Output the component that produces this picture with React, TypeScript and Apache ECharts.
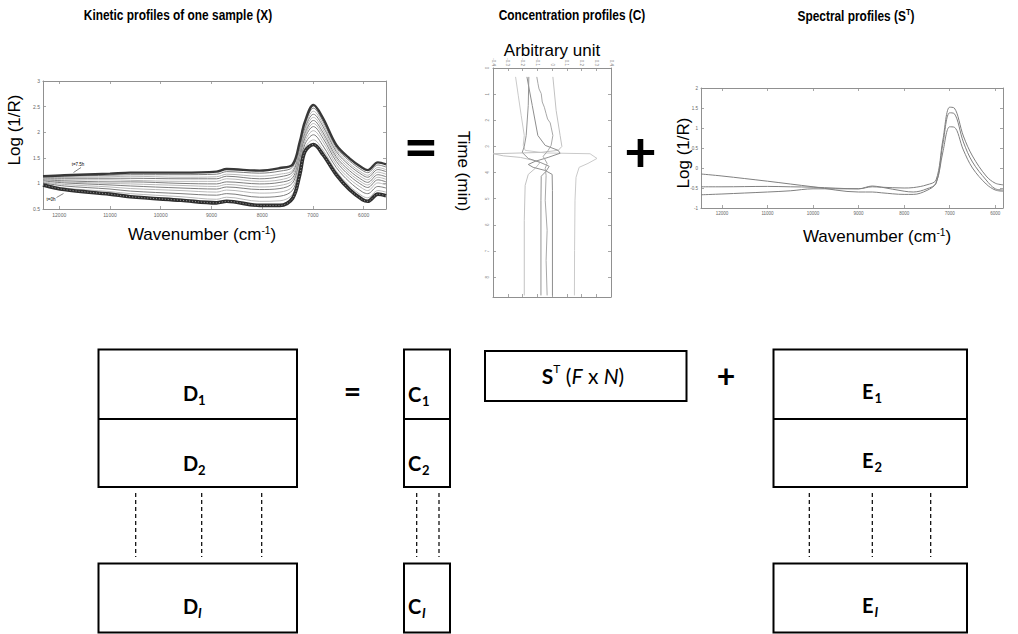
import { useEffect, useRef } from 'react';
import * as echarts from 'echarts';

// ---------- Kinetic profiles of one sample (X) ----------
const KIN_WAVENUMBERS = [12320, 11900, 11000, 10600, 9600, 8900, 8700, 8050, 7650, 7400, 7260, 7160, 6990, 6800, 6540, 6280, 6020, 5920, 5720, 5560];
const KIN_T75 = [1.14, 1.16, 1.19, 1.21, 1.21, 1.23, 1.28, 1.25, 1.30, 1.37, 1.81, 2.20, 2.53, 2.27, 1.75, 1.49, 1.30, 1.26, 1.41, 1.37];
const KIN_M1 = [1.13, 1.14, 1.16, 1.17, 1.17, 1.18, 1.23, 1.20, 1.24, 1.32, 1.76, 2.15, 2.47, 2.21, 1.70, 1.44, 1.25, 1.21, 1.36, 1.32];
const KIN_M2 = [1.11, 1.12, 1.13, 1.14, 1.12, 1.13, 1.18, 1.14, 1.18, 1.26, 1.71, 2.11, 2.41, 2.16, 1.66, 1.39, 1.20, 1.16, 1.31, 1.27];
const KIN_M3 = [1.10, 1.10, 1.10, 1.10, 1.09, 1.09, 1.14, 1.09, 1.13, 1.22, 1.66, 2.07, 2.35, 2.11, 1.62, 1.35, 1.16, 1.12, 1.27, 1.23];
const KIN_M4 = [1.09, 1.07, 1.07, 1.06, 1.04, 1.04, 1.09, 1.04, 1.07, 1.17, 1.61, 2.02, 2.29, 2.05, 1.57, 1.30, 1.11, 1.07, 1.22, 1.18];
const KIN_M5 = [1.07, 1.05, 1.03, 1.03, 1.00, 0.99, 1.03, 0.99, 1.02, 1.11, 1.56, 1.97, 2.23, 1.99, 1.52, 1.25, 1.06, 1.02, 1.17, 1.13];
const KIN_M6 = [1.06, 1.03, 1.00, 0.99, 0.96, 0.94, 0.98, 0.93, 0.96, 1.06, 1.51, 1.93, 2.17, 1.94, 1.48, 1.20, 1.01, 0.97, 1.12, 1.08];
const KIN_M7 = [1.05, 1.01, 0.97, 0.95, 0.91, 0.89, 0.93, 0.88, 0.90, 1.01, 1.46, 1.88, 2.11, 1.88, 1.43, 1.15, 0.96, 0.92, 1.07, 1.03];
const KIN_M8 = [1.03, 0.98, 0.93, 0.90, 0.86, 0.83, 0.87, 0.81, 0.83, 0.94, 1.39, 1.82, 2.03, 1.81, 1.37, 1.09, 0.90, 0.86, 1.01, 0.97];
const KIN_M9 = [1.01, 0.95, 0.89, 0.85, 0.80, 0.77, 0.80, 0.73, 0.75, 0.87, 1.32, 1.76, 1.95, 1.73, 1.31, 1.03, 0.83, 0.80, 0.94, 0.91];
const KIN_M10 = [0.99, 0.91, 0.84, 0.80, 0.74, 0.69, 0.73, 0.65, 0.66, 0.79, 1.25, 1.69, 1.85, 1.65, 1.24, 0.95, 0.75, 0.72, 0.86, 0.83];
const KIN_T0 = [0.97, 0.88, 0.79, 0.74, 0.67, 0.62, 0.65, 0.57, 0.57, 0.71, 1.17, 1.62, 1.76, 1.56, 1.17, 0.88, 0.68, 0.65, 0.79, 0.76];
const KIN_MIDDLE = [KIN_M1, KIN_M2, KIN_M3, KIN_M4, KIN_M5, KIN_M6, KIN_M7, KIN_M8, KIN_M9, KIN_M10];

// ---------- Concentration profiles (C): [arbitrary unit, time] ----------
const CONC_SPIKE_RIGHT = [[-0.247, 0.34], [-0.229, 1.04], [-0.209, 1.81], [-0.188, 2.58], [-0.195, 2.96], [-0.182, 3.15], [-0.046, 3.25], [0.258, 3.28], [0.305, 3.46], [0.244, 3.65], [0.184, 3.80], [0.163, 4.18], [0.156, 5.06], [0.153, 6.98], [0.152, 8.70]];
const CONC_SPIKE_LEFT = [[0.006, 0.34], [0.028, 1.62], [0.055, 2.58], [0.067, 3.00], [0.042, 3.15], [-0.08, 3.23], [-0.398, 3.28], [-0.33, 3.36], [-0.215, 3.42], [-0.128, 3.53], [-0.08, 3.61], [-0.114, 3.84], [-0.161, 4.07], [-0.182, 4.49], [-0.188, 5.83], [-0.188, 8.70]];
const CONC_DARK_A = [[-0.17, 0.34], [-0.134, 1.43], [-0.096, 2.58], [-0.046, 2.96], [0.042, 3.15], [0.055, 3.26], [-0.026, 3.42], [-0.114, 3.57], [-0.161, 3.69], [-0.128, 3.80], [-0.046, 3.92], [0.001, 4.07], [0.003, 4.69], [0.003, 8.70]];
const CONC_DARK_B = [[-0.157, 0.34], [-0.161, 1.43], [-0.175, 2.58], [-0.188, 3.00], [-0.202, 3.23], [-0.161, 3.46], [-0.08, 3.61], [-0.019, 3.76], [-0.04, 3.95], [-0.073, 4.14], [-0.075, 5.06], [-0.075, 8.70]];
const CONC_WAVY = [[-0.103, 0.34], [-0.095, 0.6], [-0.088, 0.8], [-0.073, 0.98], [-0.066, 1.3], [-0.052, 1.5], [-0.04, 1.75], [-0.03, 1.95], [-0.012, 2.1], [-0.006, 2.26], [0.006, 2.58], [-0.006, 2.96], [-0.026, 3.15], [-0.06, 3.38], [-0.033, 3.65], [-0.046, 3.84], [-0.04, 4.11], [-0.046, 5.06], [-0.033, 6.21], [-0.04, 7.36], [-0.033, 8.70]];

// ---------- Spectral profiles (S^T) ----------
const SPEC_WAVENUMBERS = [12460, 12000, 11000, 10500, 10000, 9000, 8700, 8500, 8000, 7800, 7500, 7300, 7150, 7000, 6900, 6700, 6500, 6200, 6000, 5830];
const SPEC_A = [-0.15, -0.20, -0.33, -0.40, -0.47, -0.60, -0.60, -0.62, -0.66, -0.66, -0.56, -0.38, 0.40, 1.03, 1.02, 0.45, 0.00, -0.40, -0.55, -0.58];
const SPEC_B = [-0.47, -0.47, -0.46, -0.47, -0.48, -0.52, -0.47, -0.48, -0.50, -0.49, -0.42, -0.30, 0.70, 1.52, 1.50, 0.80, 0.30, -0.20, -0.38, -0.42];
const SPEC_C = [-0.67, -0.65, -0.60, -0.57, -0.52, -0.52, -0.45, -0.48, -0.58, -0.60, -0.52, -0.38, 0.60, 1.38, 1.36, 0.65, 0.15, -0.30, -0.52, -0.55];

// ---------- texts ----------
const TITLE_KINETIC = 'Kinetic profiles of one sample (X)';
const TITLE_CONC = 'Concentration profiles (C)';
const TITLE_SPEC = 'Spectral profiles (S';
const LABEL_LOG = 'Log (1/R)';
const LABEL_WN = 'Wavenumber (cm';
const LABEL_TIME = 'Time (min)';
const LABEL_ARB = 'Arbitrary unit';

const LAB_FONT = "'Liberation Sans', Arial, sans-serif";
const DIA_FONT = "Lato, 'Open Sans', 'Liberation Sans', sans-serif";
const AX = '#909090';

function txt(x: number, y: number, text: string, o: any = {}) {
  const { rotation, scaleX, ...style } = o;
  return {
    type: 'text', x, y, rotation: rotation || 0, scaleX: scaleX || 1, silent: true,
    style: {
      text, fill: '#000', fontFamily: LAB_FONT, fontSize: 12,
      align: 'center', verticalAlign: 'middle', textAlign: 'center', textVerticalAlign: 'middle',
      ...style,
    },
  };
}

function rect(x: number, y: number, w: number, h: number) {
  return { type: 'rect', shape: { x, y, width: w, height: h }, style: { fill: 'none', stroke: '#000', lineWidth: 2 }, silent: true };
}
function hline(x1: number, x2: number, y: number) {
  return { type: 'line', shape: { x1, y1: y, x2, y2: y }, style: { stroke: '#000', lineWidth: 2 }, silent: true };
}
function dash(x: number, y1: number, y2: number) {
  return { type: 'line', shape: { x1: x, y1, x2: x, y2 }, style: { stroke: '#000', lineWidth: 1.2, lineDash: [4, 3] }, silent: true };
}
function subLabel(main: string, sub: string, x: number, y: number, subDx: number, italic = false) {
  return [
    txt(x, y, main, { fontFamily: DIA_FONT, fontWeight: 'bold', fontSize: 20, align: 'left', textAlign: 'left' }),
    txt(x + subDx, y + 7, sub, { fontFamily: DIA_FONT, fontWeight: 'bold', fontSize: 13, fontStyle: italic ? 'italic' : 'normal', align: 'left', textAlign: 'left' }),
  ];
}

const plainNumber = (v: number) => String(v);

function boxAxes(grid: number, x: any, y: any, xLabelExtra: any = {}, yLabelExtra: any = {}) {
  const line = { show: true, onZero: false, lineStyle: { color: AX, width: 1 } };
  const tick = { show: true, inside: true, length: 3, lineStyle: { color: AX, width: 0.8 } };
  const lab = { fontSize: 5, color: '#666', fontFamily: LAB_FONT, margin: 3 };
  const xMainPos = x.position || 'bottom';
  const yMainPos = y.position || 'left';
  const { position: _xp, ...xr } = x;
  const { position: _yp, ...yr } = y;
  return {
    xAxes: [
      { type: 'value', gridIndex: grid, position: xMainPos, ...xr, axisLine: line, axisTick: tick, splitLine: { show: false }, axisLabel: { ...lab, ...xLabelExtra } },
      { type: 'value', gridIndex: grid, position: xMainPos === 'bottom' ? 'top' : 'bottom', ...xr, axisLine: line, axisTick: tick, splitLine: { show: false }, axisLabel: { show: false } },
    ],
    yAxes: [
      { type: 'value', gridIndex: grid, position: yMainPos, ...yr, axisLine: line, axisTick: tick, splitLine: { show: false }, axisLabel: { ...lab, ...yLabelExtra } },
      { type: 'value', gridIndex: grid, position: yMainPos === 'left' ? 'right' : 'left', ...yr, axisLine: line, axisTick: tick, splitLine: { show: false }, axisLabel: { show: false } },
    ],
  };
}

export default function App() {
  const ref = useRef<HTMLDivElement>(null);

  useEffect(() => {
    if (!ref.current) return;
    const chart = echarts.init(ref.current, undefined, { renderer: 'svg' });

    const kin = boxAxes(0,
      { inverse: true, min: 5560, max: 12320, splitNumber: 7 },
      { min: 0.5, max: 3, interval: 0.5 },
      { showMinLabel: false, showMaxLabel: false, formatter: plainNumber }, {});
    const conc = boxAxes(1,
      { position: 'top', min: -0.4, max: 0.4, interval: 0.1 },
      { inverse: true, min: 0, max: 8.76, interval: 1 },
      { rotate: 90, fontSize: 4.5, margin: 2, color: '#888' }, { rotate: 90, fontSize: 4.5, showMaxLabel: false, color: '#888' });
    const spec = boxAxes(2,
      { inverse: true, min: 5830, max: 12460, splitNumber: 7 },
      { min: -1, max: 2, interval: 0.5 },
      { showMinLabel: false, showMaxLabel: false, fontSize: 4.5, formatter: plainNumber }, { fontSize: 4.5 });

    const xAxis = [...kin.xAxes, ...conc.xAxes, ...spec.xAxes];
    const yAxis = [...kin.yAxes, ...conc.yAxes, ...spec.yAxes];

    const series: any[] = [];
    KIN_MIDDLE.forEach((arr, k) => {
      series.push({
        type: 'line', xAxisIndex: 0, yAxisIndex: 0, showSymbol: false, smooth: 0.35, silent: true,
        data: KIN_WAVENUMBERS.map((w, i) => [w, arr[i]]),
        lineStyle: { color: k % 2 === 0 ? '#7d7d7d' : '#b8b8b8', width: 1 },
      });
    });
    series.push({
      type: 'line', xAxisIndex: 0, yAxisIndex: 0, showSymbol: false, smooth: 0.35, silent: true,
      data: KIN_WAVENUMBERS.map((w, i) => [w, KIN_T75[i]]),
      lineStyle: { color: '#383838', width: 2.4 },
    });
    series.push({
      type: 'line', xAxisIndex: 0, yAxisIndex: 0, showSymbol: false, smooth: 0.35, silent: true,
      data: KIN_WAVENUMBERS.map((w, i) => [w, KIN_T0[i]]),
      lineStyle: { color: '#2e2e2e', width: 3.6 },
    });
    series.push({
      type: 'line', xAxisIndex: 0, yAxisIndex: 0, showSymbol: false, smooth: 0.35, silent: true,
      data: KIN_WAVENUMBERS.map((w, i) => [w, KIN_T0[i]]),
      lineStyle: { color: '#9a9a9a', width: 1, type: [1, 2] },
    });

    const concLines: [number[][], string][] = [
      [CONC_SPIKE_RIGHT, '#cacaca'],
      [CONC_SPIKE_LEFT, '#c2c2c2'],
      [CONC_DARK_A, '#8e8e8e'],
      [CONC_DARK_B, '#959595'],
      [CONC_WAVY, '#a8a8a8'],
    ];
    concLines.forEach(([d, c]) => {
      series.push({
        type: 'line', xAxisIndex: 2, yAxisIndex: 2, showSymbol: false, smooth: false, silent: true,
        data: d, lineStyle: { color: c, width: 1 },
      });
    });

    [SPEC_A, SPEC_B, SPEC_C].forEach((arr) => {
      series.push({
        type: 'line', xAxisIndex: 4, yAxisIndex: 4, showSymbol: false, smooth: 0.35, silent: true,
        data: SPEC_WAVENUMBERS.map((w, i) => [w, arr[i]]),
        lineStyle: { color: '#808080', width: 1 },
      });
    });

    const wnRich = (size: number) => ({
      a: { fontSize: size, fontFamily: LAB_FONT, fill: '#000', verticalAlign: 'bottom' },
      b: { fontSize: size * 0.6, fontFamily: LAB_FONT, fill: '#000', verticalAlign: 'top' },
    });

    const graphic: any[] = [
      // titles
      txt(178, 15, TITLE_KINETIC, { fontWeight: 'bold', fontSize: 14, scaleX: 0.85 }),
      txt(572, 15, TITLE_CONC, { fontWeight: 'bold', fontSize: 14, scaleX: 0.85 }),
      {
        type: 'text', x: 856, y: 15, scaleX: 0.85, silent: true,
        style: {
          text: `{a|${TITLE_SPEC}}{b|T}{a|)}`, align: 'center', verticalAlign: 'middle', textAlign: 'center', textVerticalAlign: 'middle',
          rich: {
            a: { fontSize: 14, fontWeight: 'bold', fontFamily: LAB_FONT, fill: '#000', verticalAlign: 'bottom', lineHeight: 16 },
            b: { fontSize: 9, fontWeight: 'bold', fontFamily: LAB_FONT, fill: '#000', verticalAlign: 'top', lineHeight: 16 },
          },
        },
      },
      // kinetic axis names
      txt(14, 130, LABEL_LOG, { fontSize: 17, rotation: Math.PI / 2 }),
      {
        type: 'text', x: 202, y: 234, silent: true,
        style: { text: `{a|${LABEL_WN}}{b|-1}{a|)}`, align: 'center', verticalAlign: 'middle', textAlign: 'center', textVerticalAlign: 'middle', rich: wnRich(17) },
      },
      txt(78, 164, 't=7.5h', { fontSize: 4.5 }),
      { type: 'line', shape: { x1: 81, y1: 167.5, x2: 73.5, y2: 172.5 }, style: { stroke: '#333', lineWidth: 0.6 }, silent: true },
      txt(51, 199, 't=0h', { fontSize: 4.5 }),
      { type: 'line', shape: { x1: 56.5, y1: 197.5, x2: 63.5, y2: 193.5 }, style: { stroke: '#333', lineWidth: 0.6 }, silent: true },
      // concentration axis names
      txt(552, 50, LABEL_ARB, { fontSize: 17 }),
      txt(463, 171, LABEL_TIME, { fontSize: 17, rotation: -Math.PI / 2 }),
      // spectral axis names
      txt(683, 153, LABEL_LOG, { fontSize: 17, rotation: Math.PI / 2 }),
      {
        type: 'text', x: 877, y: 236, silent: true,
        style: { text: `{a|${LABEL_WN}}{b|-1}{a|)}`, align: 'center', verticalAlign: 'middle', textAlign: 'center', textVerticalAlign: 'middle', rich: wnRich(17) },
      },
      // big operators
      txt(421, 145, '=', { fontFamily: DIA_FONT, fontWeight: 'bold', fontSize: 60 }),
      txt(640.5, 150, '+', { fontFamily: DIA_FONT, fontWeight: 'bold', fontSize: 56 }),

      // ---- bottom diagram ----
      rect(98.5, 349.5, 198.5, 137.5), hline(98.5, 297, 419),
      rect(98.5, 563.5, 198.5, 69),
      rect(404, 349.5, 46, 137.5), hline(404, 450, 419),
      rect(404, 563.5, 46, 69),
      rect(485, 351, 201.5, 50),
      rect(773.5, 349.5, 193.5, 137.5), hline(773.5, 967, 419),
      rect(773.5, 563.5, 193.5, 69),
      dash(135.7, 493, 557), dash(201.7, 493, 557), dash(261.7, 493, 557),
      dash(416.7, 493, 557), dash(439, 493, 557),
      dash(809.3, 493, 557), dash(872.3, 493, 557), dash(930.7, 493, 557),
      ...subLabel('D', '1', 183, 393, 15),
      ...subLabel('D', '2', 183, 463, 15),
      ...subLabel('D', 'I', 183, 606, 15, true),
      ...subLabel('C', '1', 408, 394, 14),
      ...subLabel('C', '2', 408, 463, 14),
      ...subLabel('C', 'I', 408, 606, 14, true),
      ...subLabel('E', '1', 862, 391, 12.5),
      ...subLabel('E', '2', 862, 460, 12.5),
      ...subLabel('E', 'I', 862, 605, 12.5, true),
      {
        type: 'text', x: 583, y: 374, silent: true,
        style: {
          text: '{s|S}{t|T}{n| (}{i|F}{n| x }{i|N}{n|)}',
          align: 'center', verticalAlign: 'middle', textAlign: 'center', textVerticalAlign: 'middle',
          rich: {
            s: { fontFamily: DIA_FONT, fontWeight: 'bold', fontSize: 21, fill: '#000', verticalAlign: 'bottom', lineHeight: 23 },
            t: { fontFamily: DIA_FONT, fontSize: 12, fill: '#000', verticalAlign: 'top', lineHeight: 23 },
            n: { fontFamily: DIA_FONT, fontSize: 21, fill: '#000', verticalAlign: 'bottom', lineHeight: 23 },
            i: { fontFamily: DIA_FONT, fontStyle: 'italic', fontSize: 21, fill: '#000', verticalAlign: 'bottom', lineHeight: 23 },
          },
        },
      },
      txt(352.5, 390, '=', { fontFamily: DIA_FONT, fontWeight: 'bold', fontSize: 30 }),
      txt(726, 375, '+', { fontFamily: DIA_FONT, fontWeight: 'bold', fontSize: 32 }),
    ];

    chart.setOption({
      animation: false,
      backgroundColor: '#fff',
      grid: [
        { left: 43, top: 81, width: 343, height: 128, containLabel: false, outerBoundsMode: 'none' },
        { left: 493, top: 68, width: 118, height: 229, containLabel: false, outerBoundsMode: 'none' },
        { left: 701, top: 88, width: 302, height: 120, containLabel: false, outerBoundsMode: 'none' },
      ],
      xAxis,
      yAxis,
      series,
      graphic,
    });

    return () => chart.dispose();
  }, []);

  return <div ref={ref} style={{ position: 'fixed', left: 0, top: 0, width: 1018, height: 634, background: '#fff' }} />;
}
